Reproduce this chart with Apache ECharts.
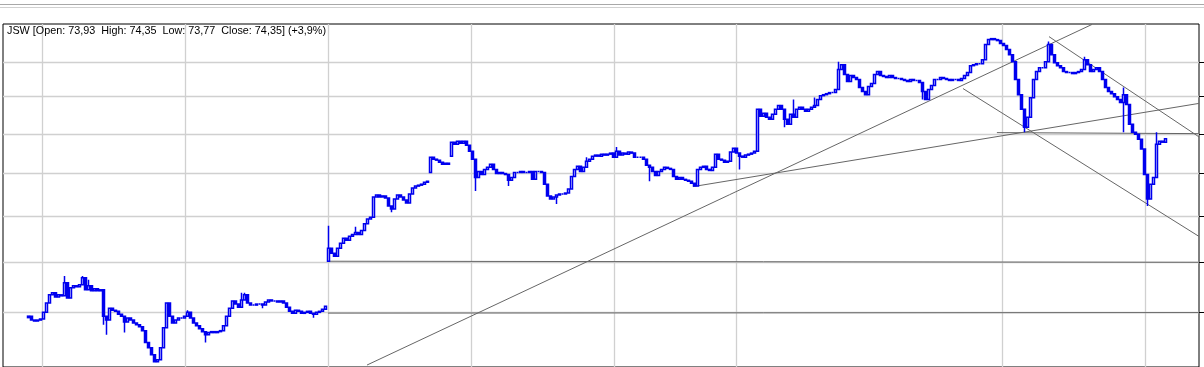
<!DOCTYPE html>
<html>
<head>
<meta charset="utf-8">
<script src="https://cdn.jsdelivr.net/npm/echarts@6.0.0/dist/echarts.min.js"></script>
<style>
  html, body { margin: 0; padding: 0; background: #fff; }
  #chart { width: 1204px; height: 367px; }
</style>
</head>
<body>
<div id="chart"></div>
<script>
// ---- data ----
const chartTitle = 'JSW [Open: 73,93  High: 74,35  Low: 73,77  Close: 74,35] (+3,9%)';

// closing price of each bar, in order
const closes = [
  54.64, 54.27, 54.18, 54.27, 54.37, 55.0, 55.9, 56.7, 56.9, 56.5, 56.7, 56.6, 57.9, 56.4, 57.4, 57.6, 57.5, 57.7, 58.4, 57.2,
  57.6, 57.1, 57.3, 57.1, 57.2, 54.64, 54.27, 55.4, 55.2, 55.1, 54.82, 54.64, 54.09, 54.46, 54.27, 54.0, 53.82, 53.64, 53.28, 52.19,
  51.73, 51.10, 50.47, 50.65, 51.73, 53.55, 55.9, 54.64, 54.0, 54.27, 54.46, 54.46, 54.64, 55.0, 54.46, 54.0, 53.73, 53.46, 53.19, 52.91,
  53.10, 53.19, 53.10, 53.19, 53.28, 53.73, 54.64, 55.4, 56.1, 55.8, 55.5, 56.2, 56.7, 55.9, 55.7, 55.7, 55.8, 55.8, 55.7, 56.0,
  56.2, 56.1, 56.1, 56.0, 56.1, 55.9, 55.5, 55.1, 54.91, 55.2, 55.1, 54.91, 55.0, 55.1, 54.91, 54.82, 55.0, 55.1, 55.3, 55.6,
  61.49, 60.96, 60.64, 61.49, 62.02, 62.55, 62.34, 62.77, 62.98, 63.19, 62.98, 63.40, 64.15, 64.68, 64.89, 67.21, 67.44, 67.21, 67.33, 67.09,
  66.16, 65.81, 66.98, 67.44, 67.21, 66.86, 66.51, 67.56, 68.26, 68.49, 68.60, 68.72, 68.95, 69.07, 72.02, 71.77, 71.65, 71.39, 71.14, 71.27,
  71.14, 73.92, 73.67, 74.05, 73.80, 74.05, 73.54, 72.78, 71.77, 69.53, 70.25, 69.88, 70.51, 70.76, 71.14, 70.51, 70.0, 70.13, 70.0, 69.88,
  69.19, 69.53, 70.13, 70.13, 70.25, 70.13, 70.13, 70.25, 69.30, 70.25, 70.25, 70.13, 68.72, 67.33, 66.98, 67.21, 67.44, 67.56, 67.56, 67.67,
  68.14, 69.65, 70.51, 70.89, 70.25, 70.76, 71.52, 71.77, 72.15, 72.28, 72.15, 72.40, 72.28, 72.40, 72.53, 72.02, 72.78, 72.28, 72.53, 72.40,
  72.66, 72.53, 72.02, 72.02, 72.02, 71.77, 71.01, 70.76, 70.25, 69.77, 70.25, 70.51, 70.76, 70.63, 70.51, 69.65, 69.30, 69.53, 69.30, 69.19,
  69.07, 68.84, 68.49, 70.51, 70.76, 70.89, 70.51, 70.38, 70.76, 72.40, 71.77, 71.65, 71.39, 71.52, 72.66, 73.16, 72.53, 72.15, 72.02, 72.28,
  72.40, 72.53, 72.78, 78.27, 77.33, 77.73, 77.20, 76.93, 77.60, 78.27, 78.80, 78.27, 76.93, 76.27, 77.60, 77.20, 78.27, 78.53, 78.27, 78.00,
  78.27, 78.53, 78.80, 79.60, 80.14, 80.28, 80.42, 80.57, 80.57, 81.0, 83.86, 84.57, 83.14, 82.14, 83.0, 82.71, 82.43, 81.28, 80.71, 80.28,
  81.43, 81.85, 83.14, 83.57, 83.0, 82.86, 82.71, 83.0, 82.71, 82.57, 82.57, 82.43, 82.29, 82.14, 82.43, 82.29, 82.29, 82.0, 80.71, 79.60,
  81.0, 81.57, 82.43, 82.43, 82.71, 82.57, 82.43, 82.29, 82.43, 82.43, 82.29, 82.57, 83.0, 83.43, 84.43, 84.57, 84.71, 84.71, 85.30, 87.58,
  88.34, 88.49, 88.34, 88.19, 87.73, 87.43, 86.82, 86.06, 85.0, 82.43, 80.28, 78.27, 75.87, 77.20, 79.87, 82.43, 83.57, 84.14, 84.14, 85.0,
  87.58, 86.06, 84.86, 84.43, 84.14, 83.57, 83.43, 83.43, 83.28, 83.43, 83.57, 83.86, 85.30, 84.57, 83.57, 83.86, 84.14, 83.57, 82.43, 81.28,
  80.71, 80.42, 80.0, 79.60, 79.20, 80.28, 78.93, 76.27, 75.20, 74.94, 74.30, 73.04, 69.88, 66.98, 68.72, 69.53, 73.67, 74.05, 73.92, 74.35
];
const firstOpen = 54.5;
// bars that opened with a gap: [bar, open]
const gapOpens = [[100, 60.11], [134, 70.13], [141, 72.15]];
// intraday spikes: [bar, price]
const wickHighs = [
  [12, 58.6], [18, 58.6], [20, 58.2], [53, 55.2], [71, 56.9], [72, 56.9], [100, 63.94], [109, 63.83],
  [186, 72.0], [196, 73.29], [255, 79.6], [262, 79.9], [270, 85.0], [340, 88.04], [352, 85.76], [365, 81.28], [376, 75.2]
];
const wickLows = [
  [25, 53.82], [26, 52.91], [32, 53.10], [59, 52.19], [78, 55.4], [95, 54.5], [121, 65.46], [149, 67.91], [160, 68.49],
  [176, 66.4], [207, 69.07], [237, 70.51], [252, 75.87], [298, 79.6], [332, 75.20], [365, 75.2], [373, 66.16]
];

// time axis: empty bars before the first quote, total bar slots
const firstBar = 8;
const barSlots = 398.6667;
// vertical grid lines (bar positions) and price grid lines
const timeGrid = [13, 60.67, 108.33, 156, 203.67, 244.33, 333, 380.67];
const priceTicks = [55, 60, 65, 70, 75, 80, 85];
const priceMin = 50.02, priceMax = 90.77;

// hand-drawn trend lines: [[bar, price], [bar, price]]
const trendLines = [
  [[108.33, 60.11], [398.6, 60.0]],
  [[108.33, 54.93], [398.6, 54.98]],
  [[121.33, 50.19], [363.0, 90.7]],
  [[230.0, 68.43], [398.6, 79.07]],
  [[320.0, 81.14], [398.6, 62.77]],
  [[331.3, 75.16], [398.6, 75.03]],
  [[348.67, 88.8], [398.6, 74.62]]
];

// ---- build ----
const gapMap = new Map(gapOpens), hiMap = new Map(wickHighs), loMap = new Map(wickLows);
const candles = closes.map((c, k) => {
  const o = gapMap.has(k) ? gapMap.get(k) : (k ? closes[k - 1] : firstOpen);
  let lo = Math.min(o, c), hi = Math.max(o, c);
  if (hiMap.has(k)) hi = Math.max(hi, hiMap.get(k));
  if (loMap.has(k)) lo = Math.min(lo, loMap.get(k));
  return [firstBar + k + 0.5, o, c, lo, hi];
});

const BLUE = '#0000ee';
const chart = echarts.init(document.getElementById('chart'), null, { renderer: 'canvas' });
const series = [
  {
    type: 'line', data: [], xAxisIndex: 0, yAxisIndex: 0, z: 1, silent: true,
    markLine: {
      silent: true, symbol: ['none', 'none'], z: 1, animation: false,
      label: { show: false },
      lineStyle: { color: '#d0d0d0', width: 1.3, type: 'solid' },
      emphasis: { disabled: true },
      data: priceTicks.map(v => ({ yAxis: v })).concat(timeGrid.map(v => ({ xAxis: v })))
    }
  }
];
trendLines.forEach(seg => series.push({
  type: 'line', data: seg, xAxisIndex: 0, yAxisIndex: 0, z: 2, silent: true,
  showSymbol: false, symbol: 'none', clip: true,
  lineStyle: { color: '#666666', width: 1 }
}));
series.push({
  type: 'candlestick', data: candles, xAxisIndex: 0, yAxisIndex: 0, z: 3,
  barWidth: 3, silent: true,
  itemStyle: { color: '#ffffff', color0: BLUE, borderColor: BLUE, borderColor0: BLUE, borderWidth: 1.5 }
});
series.push({
  type: 'line', data: [], xAxisIndex: 1, yAxisIndex: 1, silent: true,
  markLine: {
    silent: true, symbol: ['none', 'none'], animation: false,
    label: { show: false },
    lineStyle: { color: '#000', width: 1, type: 'solid' },
    data: priceTicks.map(v => ({ yAxis: v }))
  }
});

chart.setOption({
  animation: false,
  backgroundColor: '#ffffff',
  title: {
    text: chartTitle, left: 7, top: 26, padding: 0,
    textStyle: { fontSize: 10.8, fontWeight: 'normal', color: '#000', fontFamily: 'Liberation Sans' }
  },
  graphic: [
    { type: 'rect', silent: true, shape: { x: 0, y: 4, width: 1204, height: 1 }, style: { fill: '#a8a8a8' } },
    { type: 'rect', silent: true, shape: { x: 0, y: 7, width: 1204, height: 1 }, style: { fill: '#d0d0d0' } }
  ],
  grid: [
    { left: 3, top: 24, width: 1196, height: 345, show: true, borderColor: '#000', borderWidth: 1, backgroundColor: '#fff' },
    { left: 1199, top: 24, width: 5, height: 345 }
  ],
  xAxis: [
    { type: 'value', gridIndex: 0, min: 0, max: barSlots, show: false },
    { type: 'value', gridIndex: 1, min: 0, max: 1, show: false }
  ],
  yAxis: [
    { type: 'log', gridIndex: 0, min: priceMin, max: priceMax, show: false },
    { type: 'log', gridIndex: 1, min: priceMin, max: priceMax, show: false }
  ],
  series: series
});
</script>
</body>
</html>
